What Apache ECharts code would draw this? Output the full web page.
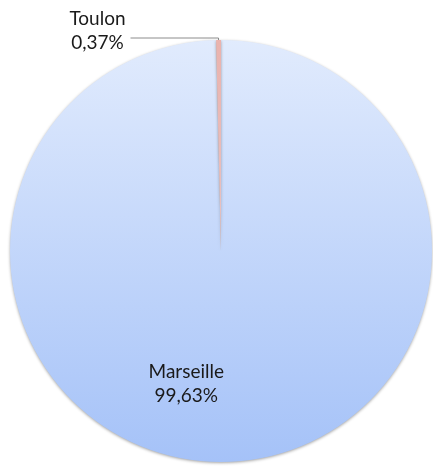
<!DOCTYPE html>
<html>
<head>
<meta charset="utf-8">
<script src="https://cdn.jsdelivr.net/npm/echarts@6/dist/echarts.min.js"></script>
<style>
html,body{margin:0;padding:0;background:#fff;}
#chart{width:433px;height:466px;}
</style>
</head>
<body>
<div id="chart"></div>
<script>
const categories = ['Marseille', 'Toulon'];
const values = [99.63, 0.37];
const percentLabels = ['99,63%', '0,37%'];

const chart = echarts.init(document.getElementById('chart'), null, {renderer: 'canvas'});
const fontFamily = 'Lato, "Open Sans", sans-serif';

const data = categories.map((name, i) => ({
  name: name,
  value: values[i],
  pct: percentLabels[i]
}));

data[0].itemStyle = {
  color: new echarts.graphic.LinearGradient(0, 0, 0, 1, [
    {offset: 0, color: '#e1ebfd'},
    {offset: 1, color: '#a5c2f8'}
  ])
};
data[0].label = {
  position: 'inside',
  padding: [0, 72, 0, 0],
  formatter: function (p) { return '{sp| }\n{t|' + p.name + '}\n{t|' + p.data.pct + '}'; }
};
data[1].itemStyle = {
  color: new echarts.graphic.LinearGradient(0, 0, 0, 1, [
    {offset: 0, color: '#eab3ae'},
    {offset: 1, color: '#e7c3c3'}
  ])
};
data[1].label = {
  position: 'outside',
  formatter: function (p) { return '{t|' + p.name + '}\n{t|' + p.data.pct + '}\n{sp2| }'; }
};
data[1].labelLine = {
  show: true,
  length: 2,
  length2: 88,
  lineStyle: {color: '#8c8c8c', width: 1}
};

chart.setOption({
  backgroundColor: '#ffffff',
  animation: false,
  series: [{
    type: 'pie',
    center: [221, 251],
    radius: [0, 211],
    startAngle: 90,
    clockwise: true,
    avoidLabelOverlap: false,
    minShowLabelAngle: 0,
    itemStyle: {
      borderWidth: 0,
      shadowBlur: 3,
      shadowColor: 'rgba(0,0,0,0.35)',
      shadowOffsetY: 1
    },
    label: {
      show: true,
      color: '#1a1a1a',
      fontFamily: fontFamily,
      fontSize: 19,
      lineHeight: 24,
      rich: {
        t: {fontFamily: fontFamily, fontSize: 19, lineHeight: 24, color: '#1a1a1a', align: 'center'},
        sp: {fontSize: 10, height: 48, lineHeight: 48},
        sp2: {fontSize: 10, height: 14, lineHeight: 14}
      }
    },
    labelLine: {show: false},
    emphasis: {disabled: true},
    data: data
  }]
});
</script>
</body>
</html>
